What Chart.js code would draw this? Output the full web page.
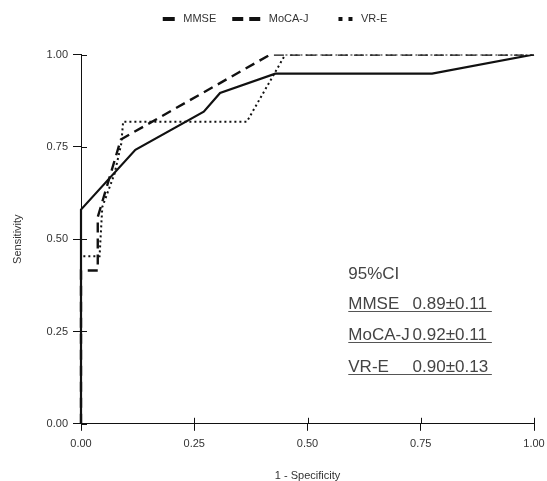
<!DOCTYPE html>
<html>
<head>
<meta charset="utf-8">
<script src="https://cdn.jsdelivr.net/npm/chart.js@4/dist/chart.umd.min.js"></script>
<style>
    html, body { margin: 0; padding: 0; background: #fff; }
    #wrap { width: 547px; height: 481px; }
</style>
</head>
<body>
<div id="wrap"><canvas id="roc-chart"></canvas></div>
<script>
/**
 *  ROC curves
 */
var mmseFpr  = [0, 0, 0.12, 0.271, 0.307, 0.429, 0.775, 1];
var mmseSens = [0, 0.58, 0.742, 0.845, 0.896, 0.948, 0.948, 1];

var mocaFpr  = [0, 0, 0.037, 0.037, 0.088, 0.418, 1];
var mocaSens = [0, 0.415, 0.415, 0.56, 0.77, 1, 1];

var vreFpr  = [0, 0, 0.041, 0.047, 0.074, 0.089, 0.093, 0.366, 0.451, 1];
var vreSens = [0, 0.454, 0.454, 0.587, 0.677, 0.759, 0.818, 0.818, 1, 1];

var axisTicks = [0, 0.25, 0.5, 0.75, 1];

var ciTitle = '95%CI';
var ciLabels = ['MMSE', 'MoCA-J', 'VR-E'];
var ciValues = ['0.89±0.11', '0.92±0.11', '0.90±0.13'];

var FONT = "'Liberation Sans', Arial, sans-serif";

// lines may spill over the left/bottom edge, the top edge cuts them
var lineClip = {left: 4, top: 0, right: 4, bottom: 4};

function toPoints(xs, ys)
{
    return xs.map(function (x, i) { return {x: x, y: ys[i]}; });
}

/**
 *  Legend symbols: per item dash pattern inside a fixed box
 */
var legendDash = {
    'MMSE':   {dash: [12, 40], offset: -16},
    'MoCA-J': {dash: [11, 6, 11, 40], offset: 0},
    'VR-E':   {dash: [4, 6, 4, 40], offset: -14}
};

/**
 *  Inner half of the axis ticks + the 95%CI note
 */
var extras = {
    id: 'extras',
    afterDraw: function (chart) {
        var ctx = chart.ctx;
        var xs = chart.scales.x, ys = chart.scales.y;
        ctx.save();
        ctx.strokeStyle = '#111';
        ctx.lineWidth = 1;
        ctx.beginPath();
        axisTicks.forEach(function (t) {
            var px = Math.round(xs.getPixelForValue(t)) + 0.5;
            ctx.moveTo(px, ys.bottom);
            ctx.lineTo(px, ys.bottom - 6);
            var py = Math.round(ys.getPixelForValue(t)) + 0.5;
            ctx.moveTo(xs.left, py);
            ctx.lineTo(xs.left + 6, py);
        });
        ctx.stroke();

        var left = xs.getPixelForValue(0.590);
        var right = xs.getPixelForValue(0.907);
        var valueX = xs.getPixelForValue(0.732);
        ctx.fillStyle = '#444';
        ctx.strokeStyle = '#555';
        ctx.font = '17px ' + FONT;
        ctx.textBaseline = 'alphabetic';
        ctx.fillText(ciTitle, left, ys.getPixelForValue(0.391));
        var rows = [0.312, 0.226, 0.140];
        rows.forEach(function (r, i) {
            var base = ys.getPixelForValue(r);
            ctx.fillText(ciLabels[i], left, base);
            ctx.fillText(ciValues[i], valueX, base);
            ctx.beginPath();
            ctx.moveTo(left, Math.round(base) + 2.5);
            ctx.lineTo(right, Math.round(base) + 2.5);
            ctx.stroke();
        });
        ctx.restore();
    }
};

var ctx = document.getElementById('roc-chart').getContext('2d');
var rocChart = new Chart(ctx, {
    type: 'scatter',
    data: {
        datasets: [
        {
            label: 'MMSE',
            data: toPoints(mmseFpr, mmseSens),
            borderColor: '#111',
            borderWidth: 2.2,
            showLine: true,
            pointRadius: 0,
            clip: lineClip
        },
        {
            label: 'MoCA-J',
            data: toPoints(mocaFpr, mocaSens),
            borderColor: '#111',
            borderWidth: 2.4,
            borderDash: [10, 6],
            showLine: true,
            pointRadius: 0,
            clip: lineClip
        },
        {
            label: 'VR-E',
            data: toPoints(vreFpr, vreSens),
            borderColor: '#111',
            borderWidth: 2,
            borderDash: [2, 3],
            showLine: true,
            pointRadius: 0,
            clip: lineClip
        }
        ]
    },
    options: {
        responsive: true,
        maintainAspectRatio: false,
        animation: false,
        layout: {
            padding: {top: -2.5, left: 0, right: 13, bottom: -0.5}
        },
        plugins: {
            tooltip: {enabled: false},
            // empty title used as a spacer between legend and plot
            title: {
                display: true,
                text: '',
                position: 'top',
                weight: 500,
                padding: 0,
                font: {size: 20, lineHeight: 1}
            },
            legend: {
                position: 'top',
                labels: {
                    color: '#333',
                    font: {family: FONT, size: 11},
                    padding: 16,
                    boxWidth: 31,
                    boxHeight: 4,
                    usePointStyle: true,
                    pointStyle: 'line',
                    pointStyleWidth: 31,
                    generateLabels: function (chart) {
                        return chart.data.datasets.map(function (ds, i) {
                            var d = legendDash[ds.label];
                            return {
                                text: ds.label,
                                datasetIndex: i,
                                fillStyle: '#111',
                                strokeStyle: '#111',
                                fontColor: '#333',
                                lineWidth: 4,
                                lineCap: 'butt',
                                lineDash: d.dash,
                                lineDashOffset: d.offset,
                                pointStyle: 'line',
                                hidden: false
                            };
                        });
                    }
                }
            }
        },
        scales: {
            x: {
                type: 'linear',
                min: 0,
                max: 1,
                afterBuildTicks: function (s) {
                    s.ticks = axisTicks.map(function (v) { return {value: v}; });
                },
                afterFit: function (s) {
                    s.paddingLeft = 0;
                    s.paddingRight = 0;
                },
                ticks: {
                    color: '#333',
                    font: {family: FONT, size: 11},
                    padding: 7,
                    callback: function (v) { return v.toFixed(2); }
                },
                grid: {drawOnChartArea: false, tickLength: 7, color: '#111'},
                border: {color: '#111', width: 1},
                title: {
                    display: true,
                    text: '1 - Specificity',
                    color: '#333',
                    font: {family: FONT, size: 11, lineHeight: 1},
                    padding: {top: 12.5, bottom: 0}
                }
            },
            y: {
                type: 'linear',
                min: 0,
                max: 1,
                afterBuildTicks: function (s) {
                    s.ticks = axisTicks.map(function (v) { return {value: v}; });
                },
                afterFit: function (s) {
                    s.width = 81;
                    s.paddingTop = 0;
                    s.paddingBottom = 0;
                },
                ticks: {
                    color: '#333',
                    font: {family: FONT, size: 11},
                    padding: 5,
                    callback: function (v) { return v.toFixed(2); }
                },
                grid: {drawOnChartArea: false, tickLength: 8, color: '#111'},
                border: {color: '#111', width: 1},
                title: {
                    display: true,
                    text: 'Sensitivity',
                    color: '#333',
                    font: {family: FONT, size: 11},
                    padding: {top: 11, bottom: 0}
                }
            }
        }
    },
    plugins: [extras]
});
</script>
</body>
</html>
